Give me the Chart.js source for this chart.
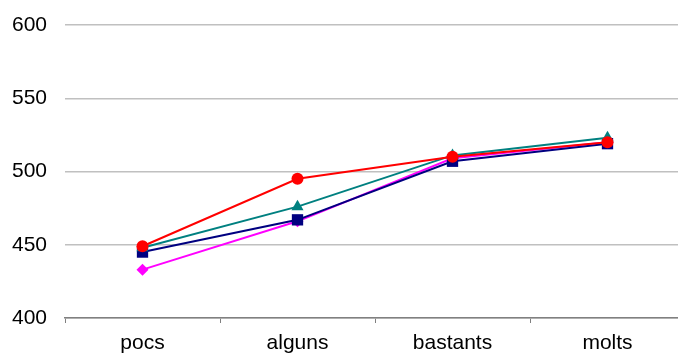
<!DOCTYPE html>
<html>
<head>
<meta charset="utf-8">
<script src="https://cdn.jsdelivr.net/npm/chart.js@4/dist/chart.umd.min.js"></script>
<style>
  html, body { margin: 0; padding: 0; background: #fff; overflow: hidden; }
  /* the plot runs a little past the right edge of the picture */
  #wrap { width: 685px; height: 354px; }
</style>
</head>
<body>
<div id="wrap"><canvas id="chart"></canvas></div>
<script>
var categories = ["pocs", "alguns", "bastants", "molts"];
var serieMagenta = [433, 466, 509, 520];
var serieNavy = [445, 467, 507, 519];
var serieTeal = [448, 476, 511, 523];
var serieRed = [449, 495, 510, 520];
var yTicks = [400, 450, 500, 550, 600];

Chart.defaults.font.family = "'Liberation Sans', Arial, sans-serif";
Chart.defaults.font.size = 21;
Chart.defaults.color = "#000";

// chart.js paints dataset 0 last, so red comes first to sit on top
var chart = new Chart(document.getElementById('chart').getContext('2d'), {
  type: 'line',
  data: {
    labels: categories,
    datasets: [
      {
        data: serieRed,
        borderColor: "#ff0000",
        backgroundColor: "#ff0000",
        borderWidth: 2,
        pointStyle: 'circle',
        pointRadius: 6,
        pointBorderWidth: 0
      },
      {
        data: serieTeal,
        borderColor: "#008080",
        backgroundColor: "#008080",
        borderWidth: 2,
        pointStyle: 'triangle',
        pointRadius: 7,
        pointBorderWidth: 0
      },
      {
        data: serieNavy,
        borderColor: "#000080",
        backgroundColor: "#000080",
        borderWidth: 2,
        pointStyle: 'rect',
        pointRadius: 8,
        pointBorderWidth: 0
      },
      {
        data: serieMagenta,
        borderColor: "#ff00ff",
        backgroundColor: "#ff00ff",
        borderWidth: 2,
        pointStyle: 'rectRot',
        pointRadius: 6,
        pointBorderWidth: 0
      }
    ]
  },
  options: {
    responsive: true,
    maintainAspectRatio: false,
    animation: false,
    layout: { autoPadding: false, padding: { top: 25, right: 0, bottom: 0, left: 0 } },
    plugins: {
      legend: { display: false },
      tooltip: { enabled: false }
    },
    scales: {
      x: {
        offset: true,
        afterFit: function(axis) { axis.height = 36; },
        grid: {
          offset: true,
          drawOnChartArea: false,
          drawTicks: true,
          tickLength: 5,
          color: "#808080"
        },
        border: { color: "#808080", width: 1.5 },
        ticks: { padding: 8 }
      },
      y: {
        min: 400,
        max: 600,
        afterBuildTicks: function(axis) {
          axis.ticks = yTicks.map(function(v){ return { value: v }; });
        },
        afterFit: function(axis) {
          axis.width = 65;
          axis.paddingTop = 0;
          axis.paddingBottom = 0;
        },
        grid: { color: "#c0c0c0", lineWidth: 1.5, drawTicks: false },
        border: { display: false },
        ticks: { padding: 18 }
      }
    }
  }
});
</script>
</body>
</html>
